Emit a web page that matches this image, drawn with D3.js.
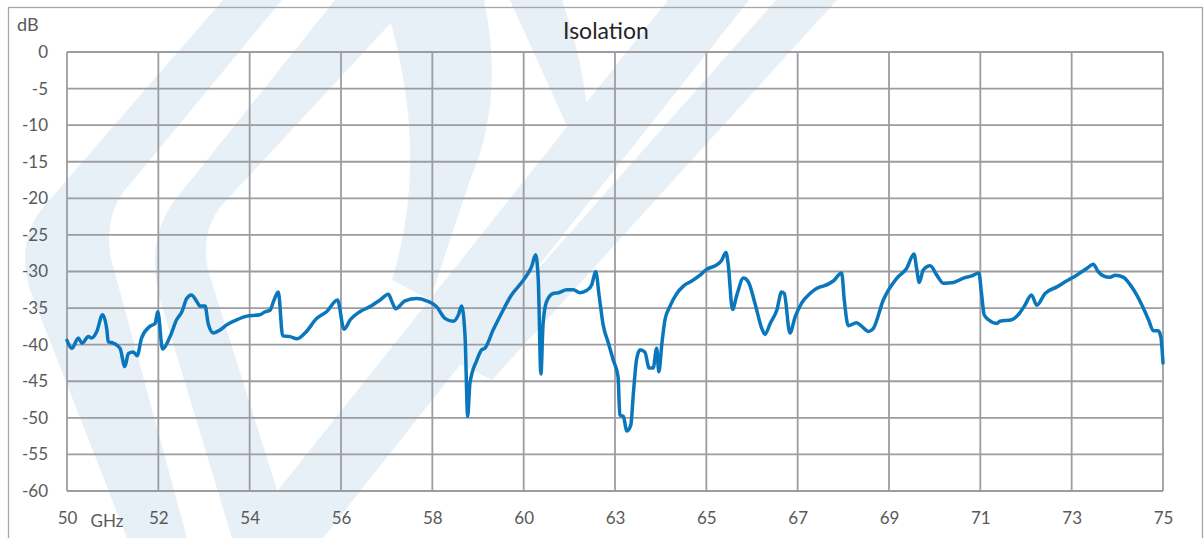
<!DOCTYPE html>
<html>
<head>
<meta charset="utf-8">
<script src="https://cdn.jsdelivr.net/npm/d3@7"></script>
<style>
  body { margin: 0; background: #fff; }
  text { font-family: Lato, "Open Sans", sans-serif; }
</style>
</head>
<body>
<div id="chart"></div>
<script>
// frequency (GHz) and isolation (dB)
const freq = [
  50.00, 50.11, 50.26, 50.34, 50.49, 50.56, 50.68, 50.81, 50.91, 50.94,
  51.06, 51.21, 51.32, 51.40, 51.51, 51.60, 51.70, 51.89, 52.01, 52.07,
  52.18, 52.35, 52.50, 52.62, 52.73, 52.84, 52.96, 53.03, 53.15, 53.22,
  53.34, 53.49, 53.64, 53.87, 54.10, 54.40, 54.52, 54.63, 54.71, 54.82,
  54.92, 55.09, 55.24, 55.43, 55.70, 55.92, 56.17, 56.32, 56.46, 56.68,
  56.91, 57.14, 57.33, 57.41, 57.50, 57.71, 57.98, 58.20, 58.43, 58.62,
  58.81, 58.93, 59.00, 59.08, 59.14, 59.19, 59.35, 59.46, 59.53, 59.72,
  59.92, 60.14, 60.33, 60.49, 60.60, 60.69, 60.75, 60.81, 60.86, 60.94,
  61.09, 61.21, 61.40, 61.55, 61.70, 61.85, 61.97, 62.06, 62.14, 62.23,
  62.35, 62.46, 62.57, 62.61, 62.69, 62.77, 62.86, 62.92, 62.99, 63.07,
  63.18, 63.28, 63.37, 63.45, 63.50, 63.57, 63.64, 63.75, 63.91, 64.06,
  64.25, 64.44, 64.59, 64.82, 64.93, 65.03, 65.08, 65.18, 65.28, 65.43,
  65.54, 65.69, 65.85, 65.92, 66.04, 66.19, 66.30, 66.36, 66.49, 66.61,
  66.76, 66.95, 67.18, 67.25, 67.48, 67.67, 67.73, 67.82, 68.01, 68.13,
  68.28, 68.39, 68.62, 68.93, 69.15, 69.32, 69.38, 69.44, 69.53, 69.69,
  69.84, 69.99, 70.22, 70.45, 70.64, 70.80, 70.86, 70.92, 71.02, 71.21,
  71.28, 71.55, 71.70, 71.85, 72.00, 72.12, 72.31, 72.58, 72.80, 73.03,
  73.26, 73.41, 73.52, 73.64, 73.79, 73.91, 74.10, 74.25, 74.40, 74.55,
  74.67, 74.78, 74.89, 74.95, 75.00
];
const isolation = [
  -39.4, -40.5, -39.1, -39.8, -38.9, -39.1, -38.2, -35.9, -38.0, -39.6,
  -39.8, -40.5, -43.0, -41.2, -41.0, -41.5, -39.1, -37.5, -37.1, -35.5,
  -40.6, -38.9, -36.6, -35.5, -33.7, -33.2, -34.1, -34.7, -34.7, -37.1,
  -38.4, -38.0, -37.3, -36.6, -36.1, -35.9, -35.5, -35.3, -34.1, -32.8,
  -38.8, -38.9, -39.2, -38.4, -36.4, -35.5, -33.9, -37.9, -36.6, -35.5,
  -34.8, -33.9, -33.1, -34.1, -35.1, -34.0, -33.7, -34.0, -34.8, -36.4,
  -36.8, -35.9, -34.7, -38.9, -49.8, -45.3, -42.1, -40.7, -40.5, -38.0,
  -35.6, -33.2, -31.8, -30.5, -29.3, -27.7, -31.2, -44.0, -37.1, -34.1,
  -33.0, -32.9, -32.5, -32.5, -32.9, -32.6, -31.8, -30.0, -33.4, -37.3,
  -39.8, -42.1, -44.4, -49.6, -49.8, -51.8, -51.0, -46.6, -42.1, -40.7,
  -41.0, -43.2, -43.2, -40.5, -43.7, -39.8, -36.6, -34.8, -33.0, -32.0,
  -31.3, -30.5, -29.7, -29.1, -28.5, -27.4, -28.9, -35.2, -33.2, -30.9,
  -31.4, -34.3, -37.8, -38.6, -37.1, -35.3, -32.8, -33.0, -38.4, -36.2,
  -34.3, -33.0, -32.1, -32.0, -31.3, -30.2, -33.9, -37.4, -37.0, -37.5,
  -38.2, -37.8, -33.9, -30.9, -29.6, -27.6, -29.6, -31.5, -29.8, -29.2,
  -30.5, -31.6, -31.5, -30.9, -30.6, -30.2, -33.0, -35.9, -36.6, -37.1,
  -36.8, -36.6, -35.9, -34.6, -33.2, -34.6, -33.0, -32.1, -31.3, -30.5,
  -29.6, -29.0, -30.0, -30.6, -30.8, -30.5, -30.8, -31.8, -33.2, -35.0,
  -36.6, -38.1, -38.1, -38.9, -42.5
];

// 12 equal steps from 50 to 75 GHz, labelled rounded
const xTickLabels = ["50", "52", "54", "56", "58", "60", "63", "65", "67", "69", "71", "73", "75"];
const yTicks = [0, -5, -10, -15, -20, -25, -30, -35, -40, -45, -50, -55, -60];

const data = freq.map((f, i) => ({ f: f, db: isolation[i] }));

const width = 1204, height = 538;
const margin = { top: 52, right: 41, bottom: 47, left: 67 };

const svg = d3.select("#chart").append("svg")
  .attr("width", width)
  .attr("height", height);

// faint logo watermark behind the chart (rough shapes)
const wm = svg.append("g").attr("fill", "#e7eff7");
[
  "M223,0 L282,0 L125,190 Q105,215 110,255 L187,538 L127,538 L30,290 Q15,240 45,205 Z",
  "M335,0 L412,0 L222,205 Q200,232 208,270 L292,538 L232,538 L160,300 Q145,240 175,200 Z",
  "M668,0 L749,0 L323,538 L240,538 Z",
  "M384,0 L484,0 Q505,100 470,180 L430,300 L392,280 Q432,150 384,0 Z",
  "M510,0 L562,0 Q590,80 591,165 L585,166 Z",
  "M776,0 L837,0 L492,380 L456,362 Z"
].forEach((d) => wm.append("path").attr("d", d));

// outer frame
svg.append("rect")
  .attr("x", 8.5).attr("y", 7.5)
  .attr("width", 1194).attr("height", 560)
  .attr("fill", "none")
  .attr("stroke", "#a6a6a6")
  .attr("stroke-width", 1.3);

const x = d3.scaleLinear().domain([50, 75]).range([margin.left, width - margin.right]);
const y = d3.scaleLinear().domain([-60, 0]).range([height - margin.bottom, margin.top]);

const xTicks = d3.range(13).map((i) => 50 + i * 25 / 12);

// grid
const grid = svg.append("g")
  .attr("stroke", "#9d9d9f")
  .attr("stroke-width", 1.8);

grid.selectAll(".hgrid")
  .data(yTicks)
  .enter()
  .append("line")
  .attr("x1", x(50)).attr("x2", x(75))
  .attr("y1", (d) => y(d)).attr("y2", (d) => y(d));

grid.selectAll(".vgrid")
  .data(xTicks)
  .enter()
  .append("line")
  .attr("x1", (d) => x(d)).attr("x2", (d) => x(d))
  .attr("y1", y(0)).attr("y2", y(-60));

// y axis labels (plain hyphen like the original)
svg.append("g")
  .attr("transform", `translate(${margin.left},0)`)
  .call(d3.axisLeft(y).tickValues(yTicks).tickSize(0).tickPadding(19)
    .tickFormat((d) => String(d)))
  .call((g) => g.select(".domain").remove())
  .selectAll("text")
  .attr("fill", "#595959")
  .style("font-size", "17px")
  .style("font-family", "Lato, sans-serif");

// x axis labels
svg.append("g")
  .attr("transform", `translate(0,${y(-60)})`)
  .call(d3.axisBottom(x).tickValues(xTicks).tickSize(0).tickPadding(21)
    .tickFormat((d, i) => xTickLabels[i]))
  .call((g) => g.select(".domain").remove())
  .selectAll("text")
  .attr("fill", "#595959")
  .style("font-size", "17px")
  .style("font-family", "Lato, sans-serif");

svg.append("text")
  .attr("x", 107).attr("y", 527)
  .attr("text-anchor", "middle")
  .attr("fill", "#595959")
  .style("font-size", "17px")
  .text("GHz");

svg.append("text")
  .attr("x", 17).attr("y", 31)
  .attr("fill", "#595959")
  .style("font-size", "18px")
  .text("dB");

svg.append("text")
  .attr("x", 606).attr("y", 39)
  .attr("text-anchor", "middle")
  .attr("fill", "#262626")
  .style("font-size", "23px")
  .text("Isolation");

// the measured curve
svg.append("path")
  .datum(data)
  .attr("fill", "none")
  .attr("stroke", "#0a77bd")
  .attr("stroke-width", 3.5)
  .attr("stroke-linejoin", "round")
  .attr("stroke-linecap", "round")
  .attr("d", d3.line()
    .curve(d3.curveMonotoneX)
    .x((d) => x(d.f))
    .y((d) => y(d.db)));
</script>
</body>
</html>
